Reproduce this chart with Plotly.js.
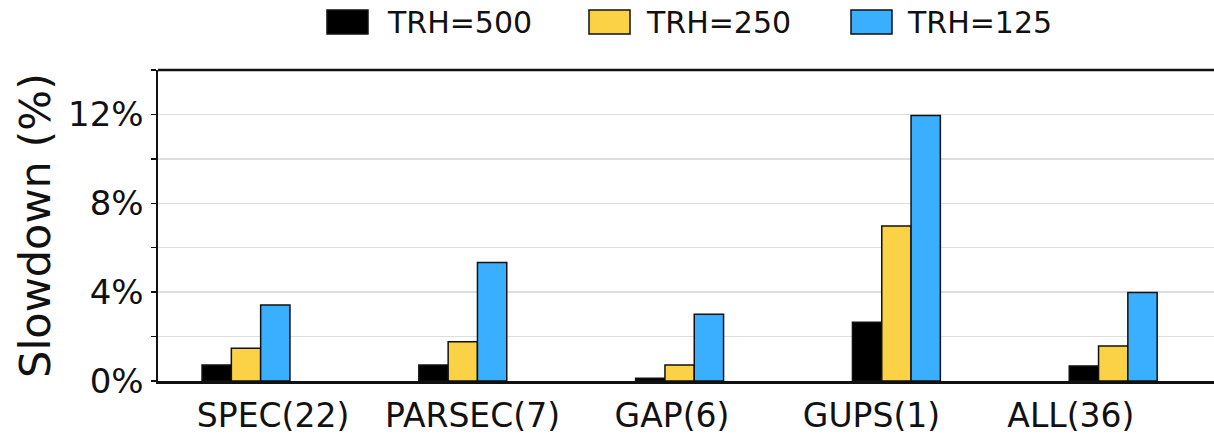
<!DOCTYPE html>
<html>
<head>
<meta charset="utf-8">
<script src="https://cdn.plot.ly/plotly-3.0.1.min.js"></script>
<style>
  html, body { margin: 0; padding: 0; background: #fff; overflow: hidden; }
  #chart { width: 1214px; height: 434px; }
</style>
</head>
<body>
<div id="chart"></div>
<script>
// ---- data ----
const categories = ["SPEC(22)", "PARSEC(7)", "GAP(6)", "GUPS(1)", "ALL(36)"];
const seriesNames = ["TRH=500", "TRH=250", "TRH=125"];
const trh500 = [0.72, 0.72, 0.12, 2.64, 0.68];
const trh250 = [1.47, 1.77, 0.72, 6.98, 1.58];
const trh125 = [3.42, 5.34, 3.00, 11.95, 3.98];
const yTickValues = [0, 2, 4, 6, 8, 10, 12, 14];
const yTickLabels = ["0%", "", "4%", "", "8%", "", "12%", ""];

// ---- style ----
const colors = ["#000000", "#FBD146", "#3BAFFF"];
const FONT = "DejaVu Sans, sans-serif";

// plot geometry (px)
const W = 1214, H = 434;
const M = { l: 158, r: 0, t: 70, b: 53 };
const PW = W - M.l - M.r, PH = H - M.t - M.b;
const px2x = px => (px - M.l) / PW;
const py2y = py => (H - M.b - py) / PH;

const xIdx = categories.map((_, i) => i);
const values = [trh500, trh250, trh125];

const traces = values.map((vals, k) => ({
  type: "bar",
  name: seriesNames[k],
  x: xIdx,
  y: vals,
  marker: { color: colors[k], line: { color: "#111111", width: 1.5 } },
  showlegend: false,
  hoverinfo: "skip"
}));

// tick label positions (offset from bar groups, as in original)
const tickPos = xIdx.map(i => 0.125 + 0.92 * i);

// custom legend
const legendSwatchX = [327, 589, 851];
const legendTextX = [387, 646, 907];
const shapes = [];
const annotations = [];
seriesNames.forEach((n, k) => {
  shapes.push({
    type: "rect", xref: "paper", yref: "paper",
    x0: px2x(legendSwatchX[k]), x1: px2x(legendSwatchX[k] + 41),
    y0: py2y(34), y1: py2y(10),
    fillcolor: colors[k], line: { color: "#111111", width: 1.5 }
  });
  annotations.push({
    xref: "paper", yref: "paper",
    x: px2x(legendTextX[k] - 2), y: py2y(22.5),
    xanchor: "left", yanchor: "middle",
    text: n, showarrow: false,
    font: { family: FONT, size: 30, color: "#111111" }
  });
});

const layout = {
  width: W, height: H,
  margin: M,
  paper_bgcolor: "#ffffff",
  plot_bgcolor: "#ffffff",
  barmode: "group",
  bargap: 0.5945,
  bargroupgap: 0,
  showlegend: false,
  font: { family: FONT, color: "#111111" },
  xaxis: {
    range: [(M.l - 246) / 216.8, (W - 246) / 216.8],
    tickmode: "array",
    tickvals: tickPos,
    ticktext: categories,
    ticks: "",
    ticklabelstandoff: 4,
    showgrid: false,
    zeroline: false,
    showline: true, linecolor: "#111111", linewidth: 2.5,
    mirror: false,
    tickfont: { family: FONT, size: 33, color: "#111111" },
    fixedrange: true
  },
  yaxis: {
    range: [0, 14],
    tickmode: "array",
    tickvals: yTickValues,
    ticktext: yTickLabels,
    ticks: "outside", ticklen: 5, tickwidth: 1.5, tickcolor: "#111111",
    showgrid: true, gridcolor: "#dedede", gridwidth: 1.5,
    zeroline: false,
    showline: true, linecolor: "#111111", linewidth: 2.5,
    tickfont: { family: FONT, size: 34, color: "#111111" },
    title: { text: "Slowdown (%)", font: { family: FONT, size: 43, color: "#111111" }, standoff: 4 },
    fixedrange: true
  },
  shapes: shapes.concat([{
    type: "line", xref: "paper", yref: "paper",
    x0: 0, x1: 1, y0: 1, y1: 1,
    line: { color: "#111111", width: 2.5 }
  }]),
  annotations: annotations
};

Plotly.newPlot("chart", traces, layout, { displayModeBar: false, staticPlot: true });
</script>
</body>
</html>
